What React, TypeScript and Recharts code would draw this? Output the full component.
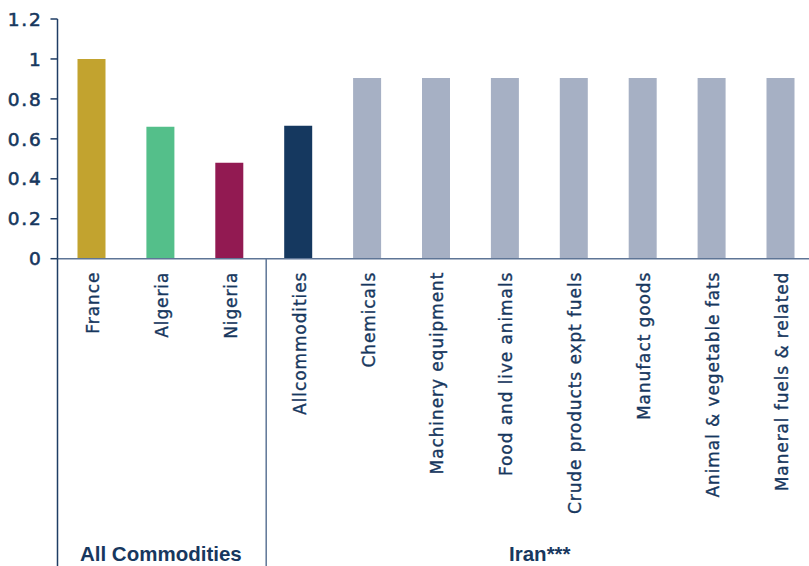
import { Bar, BarChart, Cell, XAxis, YAxis } from "recharts";

const categories = [
  "France",
  "Algeria",
  "Nigeria",
  "Allcommodities",
  "Chemicals",
  "Machinery equipment",
  "Food and live animals",
  "Crude products expt fuels",
  "Manufact goods",
  "Animal & vegetable fats",
  "Maneral fuels & related",
];
const values = [1.0, 0.66, 0.48, 0.665, 0.905, 0.905, 0.905, 0.905, 0.905, 0.905, 0.905];
const groupOf = [
  "All Commodities",
  "All Commodities",
  "All Commodities",
  "Iran***",
  "Iran***",
  "Iran***",
  "Iran***",
  "Iran***",
  "Iran***",
  "Iran***",
  "Iran***",
];
const yTicks = [0, 0.2, 0.4, 0.6, 0.8, 1, 1.2];

const barColors = [
  "#C2A32F",
  "#54BF8A",
  "#921A52",
  "#15385F",
  "#A6B0C4",
  "#A6B0C4",
  "#A6B0C4",
  "#A6B0C4",
  "#A6B0C4",
  "#A6B0C4",
  "#A6B0C4",
];

const W = 830;
const H = 566;
const Y_AXIS_W = 57.5;
const MARGIN = { top: 19, right: 14.6, left: 0, bottom: 0 };
const X_AXIS_H = 307.3;
const BAND = (W - MARGIN.left - MARGIN.right - Y_AXIS_W) / categories.length;
const LABEL_GAP = 13;

const NAVY = "#17375E";
const AXIS_NAVY = "#1F3D64";
const AXIS_GREY = "#5E7596";

const data = categories.map((name, i) => ({ name, value: values[i] }));

function ValueTick(props: any) {
  const { x, y, payload } = props;
  return (
    <text
      x={x}
      y={y}
      dy="0.36em"
      textAnchor="end"
      fill={NAVY}
      stroke={NAVY}
      strokeWidth={0.6}
      fontSize={18.5}
      letterSpacing={1.8}
      fontFamily="DejaVu Sans"
    >
      {payload.value}
    </text>
  );
}

function CategoryTick(props: any) {
  const { x, y, payload } = props;
  const i: number = props.index ?? payload.index;
  const half = BAND / 2;
  const axisY = y - LABEL_GAP;
  const g = groupOf[i];
  const first = groupOf.indexOf(g);
  const last = groupOf.lastIndexOf(g);
  const groupMid = x + ((last - first) / 2) * BAND;
  return (
    <g>
      <text
        x={x + 7}
        y={y}
        transform={`rotate(-90, ${x + 7}, ${y})`}
        textAnchor="end"
        fill={NAVY}
        stroke={NAVY}
        strokeWidth={0.35}
        fontSize={17}
        letterSpacing={0.9}
        fontFamily="DejaVu Sans"
      >
        {payload.value}
      </text>
      {i === 0 && (
        <line x1={x - half} x2={x - half} y1={axisY} y2={H} stroke={AXIS_NAVY} strokeWidth={1.5} />
      )}
      {i === last && i < categories.length - 1 && (
        <line x1={x + half + 2} x2={x + half + 2} y1={axisY} y2={H} stroke={AXIS_GREY} strokeWidth={1.5} />
      )}
      {i === first && (
        <text
          x={groupMid}
          y={561}
          textAnchor="middle"
          fill={NAVY}
          fontSize={20.5}
          fontWeight="bold"
          fontFamily="Liberation Sans"
        >
          {g}
        </text>
      )}
    </g>
  );
}

export default function App() {
  return (
    <div
      style={{
        position: "absolute",
        left: 0,
        top: 0,
        width: 809,
        height: 566,
        overflow: "hidden",
        background: "#fff",
      }}
    >
      <BarChart width={W} height={H} data={data} margin={MARGIN}>
        <XAxis
          dataKey="name"
          interval={0}
          height={X_AXIS_H}
          tickLine={false}
          tickSize={0}
          tickMargin={LABEL_GAP}
          axisLine={{ stroke: AXIS_GREY, strokeWidth: 1.5 }}
          tick={<CategoryTick />}
        />
        <YAxis
          width={Y_AXIS_W}
          domain={[0, 1.2]}
          ticks={yTicks}
          interval={0}
          tickSize={7}
          tickMargin={8}
          axisLine={{ stroke: AXIS_NAVY, strokeWidth: 1.5 }}
          tickLine={{ stroke: AXIS_NAVY, strokeWidth: 1.5 }}
          tick={<ValueTick />}
        />
        <Bar dataKey="value" barSize={28} isAnimationActive={false}>
          {data.map((d, i) => (
            <Cell key={d.name} fill={barColors[i]} />
          ))}
        </Bar>
      </BarChart>
    </div>
  );
}
